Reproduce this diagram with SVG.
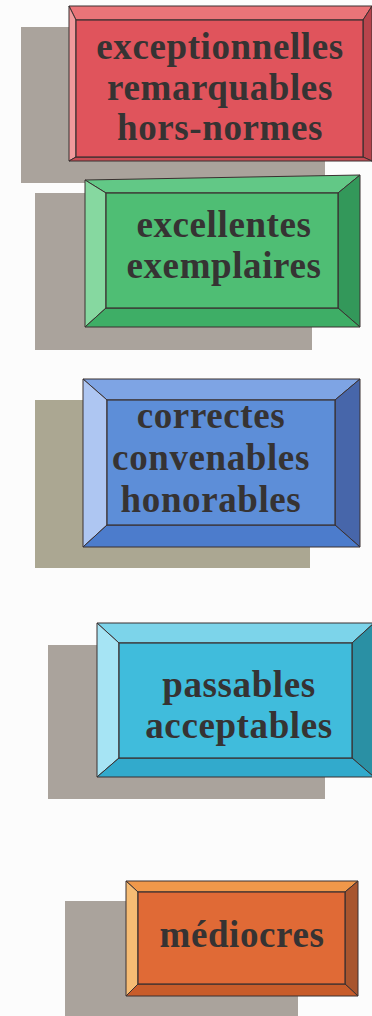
<svg xmlns="http://www.w3.org/2000/svg" width="372" height="1016" viewBox="0 0 372 1016">
<style>
.shadow{fill:#aaa39c}
.edge{stroke:#3a3030;stroke-width:1;stroke-linejoin:round}
.face{stroke:#3a3030;stroke-width:1.2}
.lbl{font-family:"Liberation Serif","Times New Roman",serif;font-weight:bold;font-size:37px;fill:#363333;text-anchor:middle;letter-spacing:0.6px}
</style>
<rect width="372" height="1016" fill="#fcfcfc"/>

<g id="node-exceptionnelles">
<rect class="shadow" x="21" y="27" width="304" height="156"/>
<polygon class="edge" points="69,6 372,6 363,20 76,20" fill="#ea7478"/>
<polygon class="edge" points="69,6 76,20 76,157 69,161" fill="#f09a9c"/>
<polygon class="edge" points="372,6 372,161 363,157 363,20" fill="#b8444c"/>
<polygon class="edge" points="69,161 76,157 363,157 372,161" fill="#c84c54"/>
<rect class="face" x="76" y="20" width="287" height="137" fill="#e0545c"/>
<text class="lbl" x="220" y="59">exceptionnelles</text>
<text class="lbl" x="220" y="100">remarquables</text>
<text class="lbl" x="220" y="140">hors-normes</text>
</g>

<g id="node-excellentes">
<rect class="shadow" x="35" y="193" width="277" height="157"/>
<polygon class="edge" points="85,180 360,175 338,193 106,193" fill="#62c886"/>
<polygon class="edge" points="85,180 106,193 106,308 85,327" fill="#86d8a0"/>
<polygon class="edge" points="360,175 360,327 338,308 338,193" fill="#33985a"/>
<polygon class="edge" points="85,327 106,308 338,308 360,327" fill="#3eae66"/>
<rect class="face" x="106" y="193" width="232" height="115" fill="#4fbe74"/>
<text class="lbl" x="224" y="237">excellentes</text>
<text class="lbl" x="224" y="278">exemplaires</text>
</g>

<g id="node-correctes">
<rect x="35" y="400" width="275" height="168" fill="#aba792"/>
<polygon class="edge" points="83,379 360,379 335,400 107,400" fill="#7ea4e4"/>
<polygon class="edge" points="83,379 107,400 107,525 83,547" fill="#aec6f2"/>
<polygon class="edge" points="360,379 360,547 335,525 335,400" fill="#4766aa"/>
<polygon class="edge" points="83,547 107,525 335,525 360,547" fill="#4c7ccc"/>
<rect class="face" x="107" y="400" width="228" height="125" fill="#5d8ed8"/>
<text class="lbl" x="211" y="428">correctes</text>
<text class="lbl" x="211" y="470">convenables</text>
<text class="lbl" x="211" y="512">honorables</text>
</g>

<g id="node-passables">
<rect class="shadow" x="48" y="645" width="277" height="154"/>
<polygon class="edge" points="97,623 374,623 352,643 119,643" fill="#7cd4ea"/>
<polygon class="edge" points="97,623 119,643 119,758 97,777" fill="#a6e4f4"/>
<polygon class="edge" points="374,623 374,777 352,758 352,643" fill="#2a90a4"/>
<polygon class="edge" points="97,777 119,758 352,758 374,777" fill="#32aacc"/>
<rect class="face" x="119" y="643" width="233" height="115" fill="#40bcdc"/>
<text class="lbl" x="239" y="697">passables</text>
<text class="lbl" x="239" y="738">acceptables</text>
</g>

<g id="node-mediocres">
<rect class="shadow" x="65" y="901" width="233" height="115"/>
<polygon class="edge" points="126,881 358,881 345,892 138,892" fill="#f0984a"/>
<polygon class="edge" points="126,881 138,892 138,984 126,996" fill="#f6bc74"/>
<polygon class="edge" points="358,881 358,996 345,984 345,892" fill="#a8552e"/>
<polygon class="edge" points="126,996 138,984 345,984 358,996" fill="#c85c2a"/>
<rect class="face" x="138" y="892" width="207" height="92" fill="#e06a36"/>
<text class="lbl" x="242" y="947">médiocres</text>
</g>

<g id="connectors"></g>
</svg>
